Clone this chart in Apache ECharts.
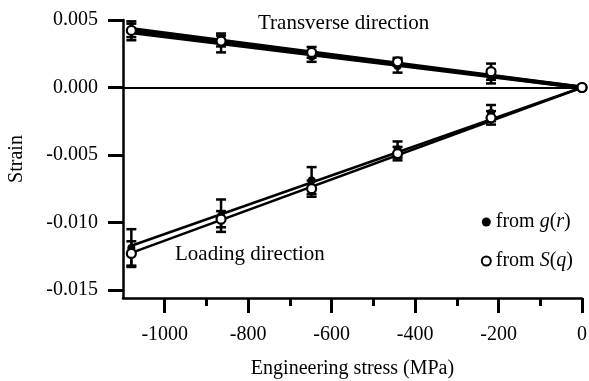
<!DOCTYPE html>
<html>
<head>
<meta charset="utf-8">
<script src="https://cdn.jsdelivr.net/npm/echarts@6/dist/echarts.min.js"></script>
<style>
  html, body { margin: 0; padding: 0; background: #fff; }
  #main { width: 589px; height: 381px; }
</style>
</head>
<body>
<div id="main"></div>
<script>
// 数据
var stress = [-1080, -865, -648, -442, -218, 0];
var transG = [0.0042, 0.0033, 0.0023, 0.0016, 0.0008, 0];
var transGErr = [0.0007, 0.0007, 0.0004, 0.0005, 0.0005, 0];
var transS = [0.00423, 0.00344, 0.0026, 0.0019, 0.00117, 0];
var transSErr = [0.0005, 0.0004, 0.0004, 0.0003, 0.0006, 0];
var loadG = [-0.0119, -0.0095, -0.0069, -0.0046, -0.0019, 0];
var loadGErr = [0.0014, 0.0012, 0.0010, 0.0006, 0.0006, 0];
var loadS = [-0.0123, -0.00976, -0.0075, -0.0049, -0.00225, 0];
var loadSErr = [0.0009, 0.0006, 0.0006, 0.0005, 0.0005, 0];
var xTicks = [-1000, -800, -600, -400, -200, 0];
var xMinorTicks = [-900, -700, -500, -300, -100];
var yTicks = [-0.015, -0.010, -0.005, 0, 0.005];

var FONT = "'Liberation Serif', 'Times New Roman', serif";

// 过原点的最小二乘拟合
function fitLine(ys) {
    var sxy = 0, sxx = 0;
    for (var i = 0; i < stress.length; i++) {
        sxy += stress[i] * ys[i];
        sxx += stress[i] * stress[i];
    }
    var k = sxy / sxx;
    return [[stress[0], k * stress[0]], [0, 0]];
}

function pairs(ys, errs) {
    return stress.map(function (x, i) { return errs ? [x, ys[i], errs[i]] : [x, ys[i]]; });
}

// 误差棒
function errorBars(ys, errs) {
    return {
        type: 'custom',
        silent: true,
        z: 3,
        data: pairs(ys, errs),
        renderItem: function (params, api) {
            var x = api.value(0), y = api.value(1), e = api.value(2);
            if (!e) return null;
            var hi = api.coord([x, y + e]);
            var lo = api.coord([x, y - e]);
            var w = 5;
            var style = { stroke: '#000', lineWidth: 2.5 };
            return {
                type: 'group',
                children: [
                    { type: 'line', shape: { x1: hi[0], y1: hi[1], x2: lo[0], y2: lo[1] }, style: style },
                    { type: 'line', shape: { x1: hi[0] - w, y1: hi[1], x2: hi[0] + w, y2: hi[1] }, style: style },
                    { type: 'line', shape: { x1: lo[0] - w, y1: lo[1], x2: lo[0] + w, y2: lo[1] }, style: style }
                ]
            };
        }
    };
}

function fit(ys, width) {
    return {
        type: 'line',
        silent: true,
        symbol: 'none',
        z: 2,
        data: fitLine(ys),
        lineStyle: { color: '#000', width: width }
    };
}

var myChart = echarts.init(document.getElementById('main'));

var option = {
    animation: false,
    backgroundColor: '#fff',
    grid: { left: 123, right: 7, top: 20, bottom: 83, outerBoundsMode: 'none' },
    legend: {
        orient: 'vertical',
        right: 11,
        top: 207,
        itemGap: 19,
        itemWidth: 9,
        itemHeight: 9,
        data: ['from g(r)', 'from S(q)'],
        formatter: function (name) {
            return name === 'from g(r)'
                ? '{n|from }{i|g}{n|(}{i|r}{n|)}'
                : '{n|from }{i|S}{n|(}{i|q}{n|)}';
        },
        textStyle: {
            rich: {
                n: { fontFamily: FONT, fontSize: 20, color: '#000' },
                i: { fontFamily: FONT, fontSize: 20, fontStyle: 'italic', color: '#000' }
            }
        }
    },
    xAxis: [{
        type: 'value',
        min: -1100,
        max: 0,
        name: 'Engineering stress (MPa)',
        nameLocation: 'middle',
        nameGap: 61,
        nameTextStyle: { fontFamily: FONT, fontSize: 20, color: '#000' },
        splitLine: { show: false },
        axisLine: { onZero: false, lineStyle: { color: '#000', width: 2.5 } },
        axisTick: { customValues: xTicks, length: 15, lineStyle: { color: '#000', width: 3 } },
        axisLabel: {
            customValues: xTicks, margin: 27, fontFamily: FONT, fontSize: 20, color: '#000',
            formatter: function (v) { return String(v); }
        }
    }, {
        type: 'value',
        min: -1100,
        max: 0,
        position: 'bottom',
        splitLine: { show: false },
        axisLine: { show: false, onZero: false },
        axisTick: { customValues: xMinorTicks, length: 8, lineStyle: { color: '#000', width: 3 } },
        axisLabel: { show: false }
    }],
    yAxis: {
        type: 'value',
        min: -0.0156,
        max: 0.005,
        name: 'Strain',
        nameLocation: 'middle',
        nameGap: 96,
        nameTextStyle: { fontFamily: FONT, fontSize: 20, color: '#000' },
        splitLine: { show: false },
        axisLine: { onZero: false, lineStyle: { color: '#000', width: 2.5 } },
        axisTick: { customValues: yTicks, length: 15, lineStyle: { color: '#000', width: 3 } },
        axisLabel: {
            customValues: yTicks,
            margin: 25,
            fontFamily: FONT,
            fontSize: 20,
            color: '#000',
            formatter: function (v) { return (Math.abs(v) < 1e-9 ? 0 : v).toFixed(3); }
        }
    },
    graphic: [
        {
            type: 'text', left: 258, top: 13,
            style: { text: 'Transverse direction', fontFamily: FONT, fontSize: 21, fill: '#000' }
        },
        {
            type: 'text', left: 175, top: 244,
            style: { text: 'Loading direction', fontFamily: FONT, fontSize: 21, fill: '#000' }
        }
    ],
    series: [
        {
            type: 'line',
            silent: true,
            symbol: 'none',
            data: [],
            markLine: {
                silent: true,
                symbol: 'none',
                label: { show: false },
                lineStyle: { color: '#000', width: 2, type: 'solid' },
                data: [{ yAxis: 0 }]
            }
        },
        fit(transG, 4), fit(transS, 4), fit(loadG, 2.5), fit(loadS, 2.5),
        errorBars(transG, transGErr), errorBars(loadG, loadGErr),
        errorBars(transS, transSErr), errorBars(loadS, loadSErr),
        {
            name: 'from g(r)',
            type: 'scatter',
            z: 4,
            symbol: 'circle',
            symbolSize: 8,
            data: pairs(transG).concat(pairs(loadG)),
            itemStyle: { color: '#000', opacity: 1 }
        },
        {
            name: 'from S(q)',
            type: 'scatter',
            z: 5,
            symbol: 'circle',
            symbolSize: 9,
            data: pairs(transS).concat(pairs(loadS)),
            itemStyle: { color: '#fff', borderColor: '#000', borderWidth: 2.2, opacity: 1 }
        }
    ]
};

myChart.setOption(option);
</script>
</body>
</html>
